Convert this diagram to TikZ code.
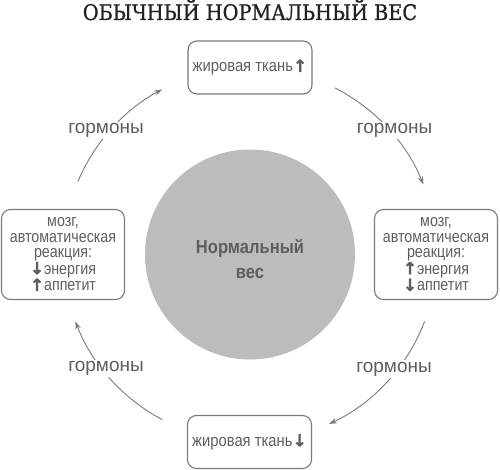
\documentclass[tikz,border=0pt]{standalone}
\usepackage{fontspec}
\setmainfont{Liberation Sans}
\newfontfamily\condfont{Liberation Sans}[FakeStretch=0.87]
\newfontfamily\sidefont{Liberation Sans}[FakeStretch=0.85]
\newfontfamily\titlefont{DejaVu Serif Condensed}[FakeBold=0.9]
\newfontfamily\arrowfont{DejaVu Sans}[FakeBold=1.2]
\usetikzlibrary{arrows.meta}
\definecolor{txt}{HTML}{5E5E5E}
\definecolor{edge}{HTML}{7A7A7A}
\definecolor{disc}{HTML}{BDBBBC}
\definecolor{ink}{HTML}{222222}
\newcommand{\upar}{{\arrowfont\bfseries ↑}}
\newcommand{\dnar}{{\arrowfont\bfseries ↓}}
\tikzset{
  statebox/.style={draw=edge, line width=1.1pt, rounded corners=9pt, align=center,
    text=txt, font=\condfont\fontsize{17}{15}\selectfont, inner sep=0pt},
  sidebox/.style={statebox, font=\sidefont\fontsize{16.8}{15.2}\selectfont,
    minimum width=123pt, minimum height=90pt},
  endbox/.style={statebox, minimum width=124pt, minimum height=53pt},
  flow/.style={draw=edge, line width=0.9pt, -{Stealth[length=8pt,width=5.5pt]}},
  hormone/.style={fill=white, text=txt, font=\fontsize{19}{19}\selectfont, inner sep=1.5pt},
  coretext/.style={text=txt, font=\condfont\bfseries\fontsize{19}{19}\selectfont, anchor=base},
}
\begin{document}
\begin{tikzpicture}[x=1pt,y=1pt]
\useasboundingbox (0,0) rectangle (500,469);
\coordinate (c) at (250,214.5);

\node[anchor=base, text=ink, font=\titlefont\fontsize{21.5}{21.5}\selectfont] (title) at (250,449) {ОБЫЧНЫЙ НОРМАЛЬНЫЙ ВЕС};

\node[circle, fill=disc, minimum size=210pt, inner sep=0pt] (core) at (c) {};
\node[coretext] (core1) at (250,215) {Нормальный};
\node[coretext] (core2) at (250,191) {вес};

\node[endbox] (top) at (250,401.5) {жировая ткань\upar};
\node[endbox] (bottom) at (249.5,27) {жировая ткань\dnar};
\node[sidebox] (left) at (63,214.5) {мозг,\\автоматическая\\реакция:\\\dnar энергия\\\upar аппетит};
\node[sidebox] (right) at (436,214.5) {мозг,\\автоматическая\\реакция:\\\upar энергия\\\dnar аппетит};

\path (c) ++(157:187pt) coordinate (tls);
\path (c) ++(63:187pt) coordinate (trs);
\path (c) ++(-21:187pt) coordinate (brs);
\path (c) ++(242:187pt) coordinate (bls);
\draw[flow] (tls) arc[start angle=157, end angle=118, radius=187pt];
\draw[flow] (trs) arc[start angle=63, end angle=22, radius=187pt];
\draw[flow] (brs) arc[start angle=-21, end angle=-65, radius=187pt];
\draw[flow] (bls) arc[start angle=242, end angle=201, radius=187pt];

\node[hormone] (htl) at (106,338.5) {гормоны};
\node[hormone] (htr) at (394.5,338.5) {гормоны};
\node[hormone] (hbl) at (106,100.5) {гормоны};
\node[hormone] (hbr) at (394,100) {гормоны};
\end{tikzpicture}
\end{document}
